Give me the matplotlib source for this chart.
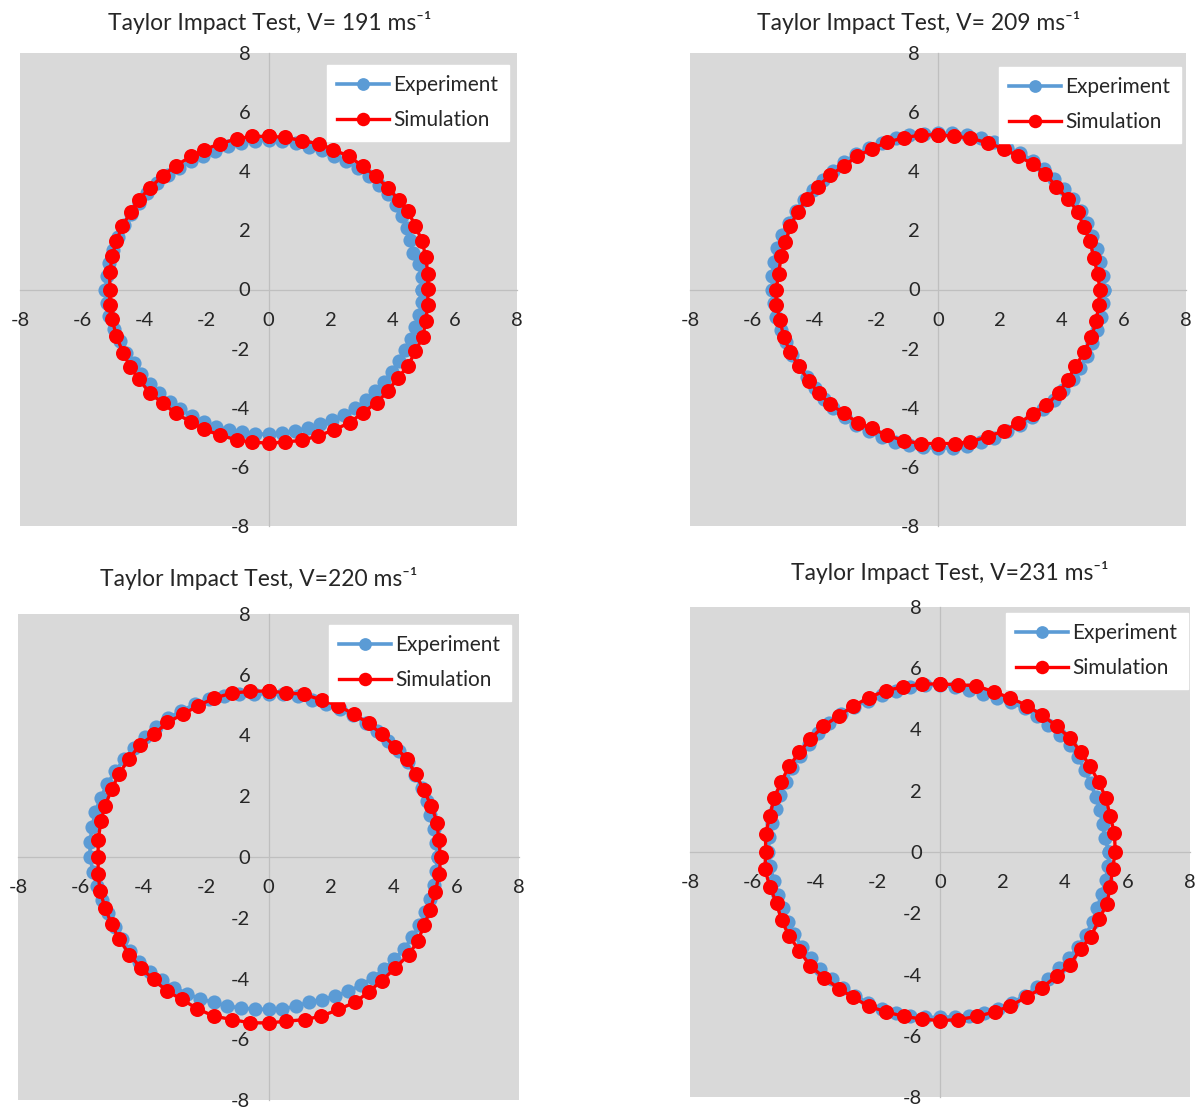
import matplotlib
matplotlib.use("Agg")
import matplotlib.pyplot as plt

plt.rcParams['font.family'] = ['Lato', 'DejaVu Sans']

titles = ["Taylor Impact Test, V= 191 ms\u207b\u00b9",
          "Taylor Impact Test, V= 209 ms\u207b\u00b9",
          "Taylor Impact Test, V=220 ms\u207b\u00b9",
          "Taylor Impact Test, V=231 ms\u207b\u00b9"]
series_names = ["Experiment", "Simulation"]
ticks = [-8, -6, -4, -2, 0, 2, 4, 6, 8]

# ---------------- Panel 1 (V=191) ----------------
exp1_x = [4.95, 4.93, 4.83, 4.66, 4.56, 4.46, 4.31, 4.10, 3.85, 3.55, 3.22, 2.88, 2.50, 2.12, 1.72, 1.30, 0.87, 0.44, 0, -0.44,
          -0.88, -1.30, -1.71, -2.11, -2.50, -2.88, -3.25, -3.59, -3.91, -4.18, -4.43, -4.64, -4.84, -5.00, -5.12, -5.20, -5.25, -5.20, -5.12, -4.97,
          -4.78, -4.58, -4.33, -4.10, -3.81, -3.51, -3.18, -2.84, -2.47, -2.09, -1.69, -1.27, -0.85, -0.43, 0, 0.42, 0.85, 1.26, 1.66, 2.06,
          2.44, 2.80, 3.14, 3.44, 3.72, 3.97, 4.20, 4.40, 4.59, 4.73, 4.85, 4.93]
exp1_y = [0, 0.43, 0.85, 1.25, 1.66, 2.08, 2.49, 2.87, 3.23, 3.55, 3.83, 4.11, 4.33, 4.53, 4.72, 4.83, 4.94, 5.03, 5.05, 5.03,
          4.97, 4.85, 4.70, 4.51, 4.33, 4.11, 3.87, 3.59, 3.28, 2.93, 2.56, 2.17, 1.76, 1.34, 0.90, 0.45, 0, -0.45, -0.90, -1.33,
          -1.74, -2.14, -2.50, -2.87, -3.20, -3.51, -3.79, -4.05, -4.27, -4.48, -4.65, -4.75, -4.83, -4.88, -4.90, -4.86, -4.79, -4.68, -4.56, -4.41,
          -4.23, -4.00, -3.74, -3.44, -3.12, -2.78, -2.43, -2.05, -1.67, -1.27, -0.85, -0.43]
sim1_x = [0, 0.53, 1.09, 1.63, 2.09, 2.60, 3.03, 3.45, 3.85, 4.19, 4.49, 4.73, 4.95, 5.06, 5.13, 5.13, 5.13, 5.06, 4.97, 4.73,
          4.49, 4.17, 3.85, 3.48, 3.03, 2.62, 2.11, 1.60, 1.09, 0.53, 0, -0.53, -1.02, -1.55, -2.09, -2.51, -2.99, -3.40, -3.83, -4.17,
          -4.46, -4.68, -4.90, -5.03, -5.11, -5.11, -5.11, -5.03, -4.90, -4.71, -4.44, -4.17, -3.83, -3.39, -2.99, -2.49, -2.09, -1.55, -1.02, -0.53]
sim1_y = [5.18, 5.15, 5.03, 4.93, 4.73, 4.50, 4.17, 3.83, 3.43, 3.04, 2.65, 2.14, 1.63, 1.10, 0.54, 0.03, -0.53, -1.07, -1.60, -2.08,
          -2.59, -2.98, -3.43, -3.83, -4.17, -4.50, -4.75, -4.95, -5.10, -5.16, -5.20, -5.16, -5.09, -4.93, -4.73, -4.47, -4.19, -3.85, -3.49, -3.04,
          -2.61, -2.14, -1.58, -1.01, -0.51, 0, 0.59, 1.13, 1.63, 2.14, 2.61, 3.04, 3.43, 3.85, 4.19, 4.50, 4.73, 4.93, 5.10, 5.18]

# ---------------- Panel 2 (V=209) ----------------
exp2_x = [5.35, 5.31, 5.22, 5.12, 4.96, 4.80, 4.61, 4.36, 4.06, 3.75, 3.41, 3.05, 2.66, 2.24, 1.81, 1.38, 0.93, 0.46, 0, -0.46,
          -0.92, -1.37, -1.81, -2.23, -2.64, -3.03, -3.38, -3.71, -4.02, -4.32, -4.59, -4.82, -5.03, -5.20, -5.30, -5.34, -5.35, -5.30, -5.22, -5.07,
          -4.91, -4.71, -4.49, -4.24, -3.98, -3.69, -3.38, -3.01, -2.64, -2.24, -1.82, -1.38, -0.93, -0.47, 0, 0.47, 0.93, 1.39, 1.82, 2.24,
          2.65, 3.03, 3.39, 3.73, 4.04, 4.34, 4.59, 4.80, 4.98, 5.14, 5.25, 5.33]
exp2_y = [0, 0.46, 0.92, 1.37, 1.81, 2.24, 2.66, 3.05, 3.41, 3.75, 4.06, 4.36, 4.61, 4.80, 4.98, 5.14, 5.24, 5.28, 5.28, 5.26,
          5.22, 5.12, 4.96, 4.78, 4.57, 4.32, 4.02, 3.71, 3.38, 3.03, 2.65, 2.25, 1.83, 1.39, 0.94, 0.47, 0, -0.46, -0.92, -1.36,
          -1.79, -2.20, -2.59, -2.97, -3.34, -3.69, -4.02, -4.30, -4.57, -4.80, -5.00, -5.15, -5.27, -5.34, -5.37, -5.35, -5.28, -5.17, -5.01, -4.80,
          -4.59, -4.32, -4.04, -3.73, -3.39, -3.04, -2.65, -2.24, -1.81, -1.38, -0.93, -0.47]
sim2_x = [0, 0.51, 1.04, 1.61, 2.12, 2.58, 3.06, 3.46, 3.82, 4.19, 4.51, 4.70, 4.91, 5.02, 5.15, 5.22, 5.18, 5.11, 4.95, 4.72,
          4.43, 4.18, 3.89, 3.49, 3.06, 2.58, 2.12, 1.61, 1.04, 0.54, 0, -0.54, -1.09, -1.65, -2.13, -2.59, -3.04, -3.47, -3.85, -4.17,
          -4.49, -4.76, -4.98, -5.09, -5.22, -5.22, -5.14, -5.06, -4.92, -4.76, -4.53, -4.23, -3.88, -3.47, -3.02, -2.61, -2.13, -1.65, -1.11, -0.54]
sim2_y = [5.23, 5.19, 5.12, 4.96, 4.76, 4.51, 4.25, 3.91, 3.48, 3.06, 2.63, 2.10, 1.64, 1.08, 0.54, 0, -0.51, -1.08, -1.59, -2.12,
          -2.60, -3.06, -3.51, -3.91, -4.22, -4.53, -4.78, -4.98, -5.15, -5.21, -5.21, -5.21, -5.12, -4.93, -4.70, -4.50, -4.19, -3.88, -3.51, -3.08,
          -2.60, -2.13, -1.61, -1.04, -0.53, 0, 0.54, 1.13, 1.61, 2.15, 2.63, 3.06, 3.48, 3.87, 4.19, 4.51, 4.76, 4.98, 5.13, 5.23]

# ---------------- Panel 3 (V=220) ----------------
exp3_x = [5.40, 5.36, 5.27, 5.17, 5.06, 4.89, 4.69, 4.46, 4.17, 3.83, 3.47, 3.10, 2.69, 2.28, 1.83, 1.39, 0.94, 0.47, 0, -0.47,
          -0.95, -1.42, -1.89, -2.35, -2.78, -3.20, -3.60, -3.96, -4.29, -4.60, -4.89, -5.15, -5.36, -5.53, -5.63, -5.70, -5.70, -5.60, -5.47, -5.31,
          -5.12, -4.91, -4.68, -4.42, -4.12, -3.78, -3.41, -3.01, -2.60, -2.18, -1.74, -1.32, -0.88, -0.44, 0, 0.44, 0.87, 1.28, 1.71, 2.13,
          2.55, 2.95, 3.34, 3.69, 4.02, 4.33, 4.59, 4.82, 5.01, 5.17, 5.27, 5.36]
exp3_y = [0, 0.47, 0.93, 1.39, 1.84, 2.28, 2.71, 3.13, 3.50, 3.83, 4.14, 4.42, 4.66, 4.87, 5.04, 5.18, 5.30, 5.36, 5.36, 5.38,
          5.37, 5.31, 5.19, 5.03, 4.81, 4.57, 4.29, 3.96, 3.60, 3.23, 2.83, 2.40, 1.95, 1.48, 0.99, 0.50, 0, -0.49, -0.96, -1.42,
          -1.86, -2.29, -2.70, -3.10, -3.46, -3.78, -4.06, -4.30, -4.50, -4.67, -4.79, -4.91, -4.97, -5.01, -5.02, -5.00, -4.92, -4.78, -4.70, -4.58,
          -4.42, -4.22, -3.98, -3.69, -3.37, -3.03, -2.65, -2.25, -1.82, -1.38, -0.93, -0.47]
sim3_x = [0, 0.57, 1.13, 1.72, 2.23, 2.73, 3.20, 3.62, 4.05, 4.42, 4.70, 4.96, 5.20, 5.39, 5.43, 5.50, 5.45, 5.33, 5.17, 4.97,
          4.77, 4.48, 4.05, 3.62, 3.20, 2.77, 2.23, 1.69, 1.16, 0.57, 0, -0.59, -1.17, -1.74, -2.27, -2.76, -3.24, -3.67, -4.08, -4.44,
          -4.77, -5.01, -5.22, -5.38, -5.44, -5.44, -5.44, -5.35, -5.22, -5.01, -4.77, -4.47, -4.10, -3.65, -3.24, -2.73, -2.25, -1.74, -1.15, -0.59]
sim3_y = [5.47, 5.40, 5.36, 5.16, 4.98, 4.70, 4.40, 4.04, 3.63, 3.22, 2.73, 2.20, 1.68, 1.13, 0.56, 0, -0.57, -1.14, -1.73, -2.24,
          -2.77, -3.21, -3.65, -4.07, -4.44, -4.78, -5.02, -5.24, -5.35, -5.41, -5.46, -5.46, -5.35, -5.24, -5.00, -4.69, -4.42, -4.03, -3.65, -3.21,
          -2.71, -2.22, -1.67, -1.12, -0.57, 0, 0.56, 1.19, 1.68, 2.23, 2.73, 3.22, 3.69, 4.04, 4.43, 4.70, 4.98, 5.23, 5.40, 5.45]

# ---------------- Panel 4 (V=231) ----------------
exp4_x = [5.40, 5.28, 5.20, 5.12, 4.98, 4.82, 4.63, 4.42, 4.15, 3.83, 3.47, 3.11, 2.71, 2.28, 1.83, 1.39, 0.94, 0.47, 0, -0.48,
          -0.95, -1.41, -1.86, -2.31, -2.74, -3.16, -3.54, -3.89, -4.20, -4.49, -4.75, -4.94, -5.12, -5.26, -5.37, -5.46, -5.50, -5.43, -5.32, -5.17,
          -5.03, -4.88, -4.66, -4.42, -4.14, -3.83, -3.47, -3.11, -2.71, -2.30, -1.86, -1.41, -0.95, -0.47, 0, 0.47, 0.94, 1.41, 1.86, 2.30,
          2.71, 3.10, 3.47, 3.80, 4.12, 4.42, 4.68, 4.88, 5.03, 5.17, 5.30, 5.38]
exp4_y = [0, 0.46, 0.92, 1.37, 1.81, 2.25, 2.68, 3.10, 3.49, 3.83, 4.14, 4.44, 4.69, 4.89, 5.03, 5.17, 5.30, 5.40, 5.45, 5.46,
          5.40, 5.27, 5.12, 4.94, 4.75, 4.50, 4.21, 3.89, 3.52, 3.15, 2.74, 2.30, 1.86, 1.41, 0.95, 0.48, 0, -0.47, -0.94, -1.39,
          -1.83, -2.28, -2.69, -3.10, -3.47, -3.83, -4.14, -4.44, -4.69, -4.94, -5.12, -5.26, -5.37, -5.40, -5.40, -5.38, -5.34, -5.26, -5.12, -4.94,
          -4.69, -4.42, -4.14, -3.80, -3.46, -3.10, -2.70, -2.27, -1.83, -1.38, -0.93, -0.47]
sim4_x = [0, 0.59, 1.16, 1.72, 2.25, 2.79, 3.27, 3.73, 4.16, 4.50, 4.80, 5.09, 5.31, 5.45, 5.58, 5.61, 5.52, 5.45, 5.34, 5.09,
          4.83, 4.50, 4.16, 3.73, 3.27, 2.79, 2.25, 1.75, 1.18, 0.59, 0, -0.59, -1.16, -1.72, -2.28, -2.77, -3.24, -3.70, -4.16, -4.50,
          -4.83, -5.07, -5.23, -5.45, -5.60, -5.58, -5.58, -5.45, -5.31, -5.09, -4.83, -4.50, -4.16, -3.73, -3.24, -2.77, -2.28, -1.74, -1.18, -0.59]
sim4_y = [5.49, 5.46, 5.43, 5.23, 5.03, 4.78, 4.46, 4.12, 3.71, 3.28, 2.80, 2.27, 1.75, 1.16, 0.62, 0, -0.56, -1.13, -1.69, -2.20,
          -2.76, -3.17, -3.68, -4.05, -4.43, -4.73, -5.02, -5.22, -5.37, -5.47, -5.51, -5.45, -5.37, -5.22, -5.04, -4.75, -4.46, -4.11, -3.71, -3.22,
          -2.74, -2.23, -1.67, -1.13, -0.56, 0, 0.59, 1.16, 1.75, 2.27, 2.80, 3.25, 3.68, 4.11, 4.45, 4.77, 5.04, 5.27, 5.39, 5.48]

panels = [(exp1_x, exp1_y, sim1_x, sim1_y),
          (exp2_x, exp2_y, sim2_x, sim2_y),
          (exp3_x, exp3_y, sim3_x, sim3_y),
          (exp4_x, exp4_y, sim4_x, sim4_y)]

W, H = 1199, 1109
DPI = 100
fig = plt.figure(figsize=(W / DPI, H / DPI), dpi=DPI)
fig.patch.set_facecolor("white")

# plot-area boxes in pixels: left, top, right, bottom
boxes = [(20, 53, 517, 526), (690, 53, 1186, 526), (18, 614, 519, 1100), (690, 607, 1190, 1097)]
title_pos = [(270, 22), (919, 22), (259, 578), (950, 572)]
legend_anchor = [(509, 65), (1181, 67), (511, 625), (1188, 613)]

BLUE = "#5B9BD5"
RED = "#FF0000"

for i, (ex, ey, sx, sy) in enumerate(panels):
    l, t, r, b = boxes[i]
    ax = fig.add_axes([l / W, 1 - b / H, (r - l) / W, (b - t) / H])
    ax.set_facecolor("#D9D9D9")
    ax.set_xlim(-8, 8)
    ax.set_ylim(-8, 8)
    for s in ["top", "right"]:
        ax.spines[s].set_visible(False)
    ax.spines["left"].set_position(("data", 0))
    ax.spines["bottom"].set_position(("data", 0))
    for s in ["left", "bottom"]:
        ax.spines[s].set_color("#BFBFBF")
        ax.spines[s].set_linewidth(0.9)
        ax.spines[s].set_zorder(1)
    ax.set_xticks(ticks)
    ax.set_yticks(ticks)
    ax.set_xticklabels([str(v) for v in ticks])
    ax.set_yticklabels([str(v) for v in ticks])
    ax.tick_params(axis="x", length=0, pad=16, labelsize=14.5, labelcolor="#262626")
    ax.tick_params(axis="y", length=0, pad=13, labelsize=14.5, labelcolor="#262626")
    ax.plot(list(ex) + [ex[0]], list(ey) + [ey[0]], color=BLUE, lw=2.6, marker="o", ms=10.2,
            markeredgewidth=0, label=series_names[0], zorder=3, clip_on=False)
    ax.plot(list(sx) + [sx[0]], list(sy) + [sy[0]], color=RED, lw=2.4, marker="o", ms=10.8,
            markeredgewidth=0, label=series_names[1], zorder=4, clip_on=False)
    ax_l, ax_t = legend_anchor[i]
    leg = ax.legend(loc="upper right",
                    bbox_to_anchor=((ax_l - l) / (r - l), 1 - (ax_t - t) / (b - t)),
                    borderaxespad=0, frameon=True, fancybox=False, framealpha=1,
                    facecolor="white", edgecolor="white", fontsize=15,
                    handlelength=2.5, handletextpad=0.2, labelspacing=0.72,
                    borderpad=0.5, markerscale=0.9)
    for txt in leg.get_texts():
        txt.set_color("#262626")
    tx, ty = title_pos[i]
    fig.text(tx / W, 1 - ty / H, titles[i], ha="center", va="center", fontsize=16.5, color="#262626")

fig.savefig("out.png", dpi=DPI)
